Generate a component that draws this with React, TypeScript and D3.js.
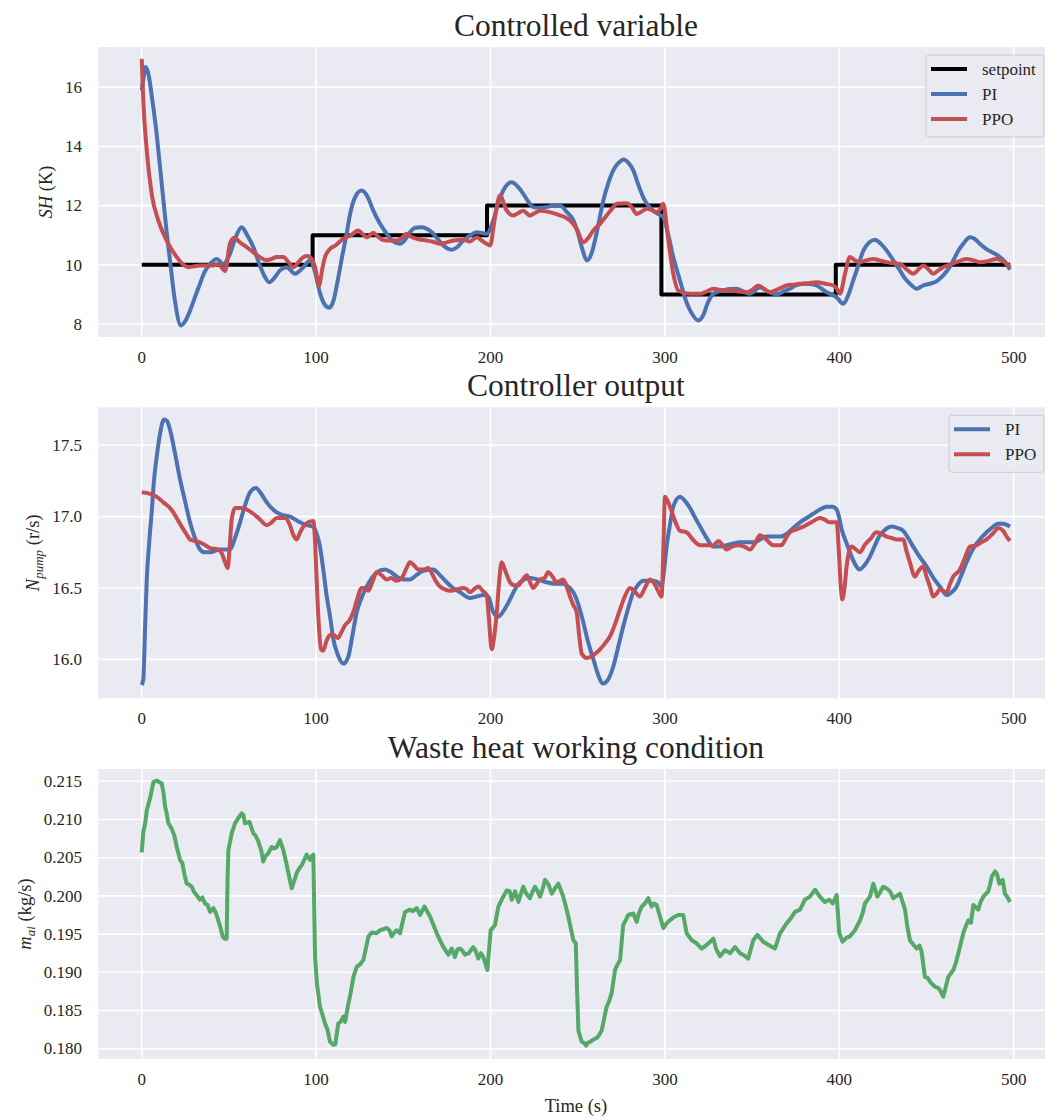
import * as d3 from 'd3'

const FONT = '"Liberation Serif", "Times New Roman", serif'
const INK = '#262626'
const BG = '#EAEAF2'
const BLUE = '#4C72B0'
const RED = '#C44E52'
const GREEN = '#55A868'

type Pt = [number, number]

// x ticks shared by all panels
const xTicks = [0, 100, 200, 300, 400, 500]

// setpoint levels (curveStepAfter)
const setpoint: Pt[] = [
  [0, 10], [98, 11], [198, 12], [298, 9], [398, 10], [498, 10],
]

// superheat, PI controller
const piSH: Pt[] = [
  [0, 15.9], [1, 16.3], [2.3, 16.68], [4, 16.4], [6, 15.6], [8.6, 14.4], [10.5, 13.3], [12.4, 12.2],
  [14.3, 11.1], [16.2, 10.15], [19, 8.8], [22.5, 7.95], [25, 8.1], [27.7, 8.45], [30.5, 8.9], [33.4, 9.36],
  [36, 9.75], [39.2, 10.03], [43, 10.2], [46.8, 10.03], [50.6, 10.37], [54, 10.95], [57.3, 11.27], [60.5, 11.0],
  [64, 10.6], [67, 10.1], [69.7, 9.7], [73.2, 9.41], [76, 9.55], [79.3, 9.81], [83.1, 9.92], [87.9, 9.7],
  [92.7, 9.92], [96.5, 10.15], [99.4, 9.75], [102.2, 9.05], [105, 8.65], [107.5, 8.55], [110, 8.8], [112.5, 9.5],
  [115, 10.3], [117.5, 11.05], [119.5, 11.72], [122.5, 12.3], [126.1, 12.51], [129.5, 12.3], [132.8, 11.83], [136.5, 11.4],
  [140.5, 11.05], [144, 10.8], [148.1, 10.71], [151, 10.85], [153.8, 11.1], [157, 11.25], [160.5, 11.27], [164, 11.2],
  [167.2, 11.05], [170, 10.85], [173, 10.65], [177.7, 10.51], [181, 10.6], [184.4, 10.82], [188, 10.98], [192.1, 11.1],
  [197.8, 11.05], [201.6, 11.5], [204.5, 12.1], [207.3, 12.51], [212.2, 12.79], [215.5, 12.65], [218.8, 12.4], [221.5, 12.15],
  [224.5, 11.95], [228, 11.93], [232.2, 11.95], [236, 12.0], [239.8, 12.0], [243.5, 11.8], [247.5, 11.5], [250, 11.1],
  [252.3, 10.6], [255.5, 10.15], [258, 10.4], [259.9, 10.82], [262, 11.4], [264.7, 12.17], [267.5, 12.75], [270.4, 13.19],
  [273.5, 13.45], [276.5, 13.56], [279, 13.45], [281.9, 13.19], [284.5, 12.75], [287.6, 12.28], [290.5, 12.0], [293.3, 11.83],
  [296, 11.72], [299, 11.61], [302, 11.0], [304.8, 10.26], [307, 9.8], [309.5, 9.3], [312, 8.8], [315, 8.4],
  [319.2, 8.12], [322, 8.3], [324.5, 8.7], [327.8, 9.02], [333.5, 9.13], [337, 9.18], [341.2, 9.19], [345, 9.1],
  [348.8, 9.02], [354.5, 9.24], [359, 9.1], [364.1, 9.0], [368, 9.1], [371.7, 9.19], [375, 9.3], [379.4, 9.36],
  [383, 9.35], [387, 9.3], [392.8, 9.07], [398.5, 8.9], [402.3, 8.68], [405, 8.95], [408, 9.47], [411, 10.0],
  [413.8, 10.48], [417, 10.75], [420.5, 10.85], [424, 10.7], [427.2, 10.48], [431, 10.15], [434.8, 9.81], [437.5, 9.55],
  [440.5, 9.36], [444.4, 9.19], [448, 9.3], [452, 9.36], [456, 9.45], [459.6, 9.64], [462.5, 9.85], [465.4, 10.15],
  [468, 10.45], [471.1, 10.71], [474.9, 10.93], [477.5, 10.88], [480.6, 10.71], [484, 10.55], [487.4, 10.43], [490, 10.35],
  [492.1, 10.26], [495, 10.1], [497.9, 9.83],
]

// superheat, PPO agent
const ppoSH: Pt[] = [
  [0, 16.96], [0.9, 15.55], [2.9, 13.86], [5.7, 12.4], [9.5, 11.5], [14.3, 10.82], [20.1, 10.26], [23, 10.05],
  [26.7, 9.92], [30, 9.95], [33.4, 9.98], [37, 9.98], [41.1, 9.98], [43.9, 10.03], [47.8, 9.79], [50.6, 10.71],
  [53.1, 10.91], [56.5, 10.75], [60.2, 10.6], [64, 10.42], [67.8, 10.26], [71.7, 10.15], [74.5, 10.2], [77.4, 10.26],
  [81.2, 10.26], [84, 10.1], [86.9, 9.92], [90, 10.1], [92.7, 10.26], [95, 10.3], [97.5, 10.2], [99.4, 9.92],
  [101.7, 9.3], [103.5, 9.85], [105.1, 10.26], [108, 10.54], [111, 10.65], [115.6, 10.88], [120, 11.0], [124.2, 11.16],
  [126.5, 11.05], [129, 10.93], [132.8, 11.08], [135.5, 10.95], [138.5, 10.84], [142, 10.82], [146.2, 10.82], [149, 10.9],
  [151.9, 11.05], [154.5, 10.95], [157.7, 10.88], [163.4, 10.82], [167, 10.78], [171, 10.71], [174.5, 10.75], [178.7, 10.82],
  [184.4, 10.85], [188.2, 10.79], [192.1, 10.93], [195, 10.82], [197.8, 10.71], [199.7, 10.65], [202.6, 11.61], [205.4, 12.34],
  [209.3, 11.83], [213.1, 11.67], [216, 11.75], [218.8, 11.83], [222.6, 11.67], [225.5, 11.75], [228.4, 11.83], [234.1, 11.78],
  [239.8, 11.67], [243, 11.6], [245.6, 11.5], [249.4, 11.22], [253.2, 10.76], [256, 10.9], [259, 11.16], [263, 11.4],
  [266.6, 11.67], [269.5, 11.88], [272.4, 12.06], [278.1, 12.08], [281, 11.95], [283.8, 11.72], [286.7, 11.8], [289.6, 11.89],
  [292.5, 11.85], [295.3, 11.78], [297.5, 11.9], [299, 12.06], [302, 10.82], [304.8, 9.7], [307.7, 9.13], [314.4, 9.02],
  [320.2, 9.02], [324, 9.1], [327.8, 9.19], [332, 9.15], [337.4, 9.13], [342, 9.1], [347, 9.07], [350, 9.15],
  [353.6, 9.3], [357, 9.18], [360.3, 9.07], [365, 9.18], [369.8, 9.3], [373.5, 9.33], [377.5, 9.36], [382, 9.38],
  [387, 9.41], [392, 9.36], [396.6, 9.3], [398.5, 9.2], [400.4, 9.02], [403.3, 9.7], [406.1, 10.26], [409, 10.15],
  [411.9, 10.09], [415.5, 10.15], [419.5, 10.2], [423, 10.15], [427.2, 10.09], [431, 10.05], [434.8, 10.03], [438.5, 9.85],
  [442.4, 9.7], [445.5, 9.85], [448.2, 9.98], [451, 9.85], [453.9, 9.7], [457, 9.82], [459.6, 9.92], [463.5, 10.0],
  [467.3, 10.09], [473, 10.2], [477, 10.15], [480.6, 10.09], [485, 10.12], [490.2, 10.2], [494, 10.12], [497.9, 9.92],
]

// pump speed, PI controller
const piN: Pt[] = [
  [0, 15.82], [0.9, 15.86], [2, 16.25], [2.9, 16.56], [4.3, 16.82], [5.7, 17.03], [7, 17.25], [8.6, 17.42],
  [10.5, 17.58], [12.8, 17.68], [14.5, 17.67], [16.2, 17.61], [19, 17.45], [22, 17.26], [25, 17.1], [27.7, 16.96],
  [30.5, 16.85], [33.4, 16.77], [36, 16.75], [39.2, 16.75], [44.9, 16.77], [50.6, 16.77], [53.5, 16.85], [56.4, 16.96],
  [59, 17.07], [62.1, 17.17], [65.5, 17.2], [68.5, 17.16], [71.7, 17.1], [74.5, 17.06], [77.4, 17.03], [81, 17.01],
  [85, 17.0], [88, 16.98], [90.8, 16.96], [94.5, 16.94], [98.4, 16.93], [100.3, 16.88], [102.2, 16.79], [104.2, 16.62],
  [106.1, 16.44], [108, 16.3], [109.9, 16.14], [112.5, 16.03], [115.6, 15.97], [118.5, 16.02], [121, 16.18], [123.3, 16.33],
  [126, 16.43], [129, 16.51], [132, 16.57], [134.7, 16.61], [139.5, 16.63], [143, 16.61], [146.2, 16.58], [150, 16.56],
  [153.8, 16.56], [157.5, 16.59], [161.5, 16.62], [167.2, 16.63], [171, 16.59], [174.9, 16.54], [178.5, 16.5], [182.5, 16.47],
  [188.2, 16.43], [192, 16.44], [195.9, 16.45], [198.7, 16.44], [201.6, 16.33], [204.5, 16.3], [207.5, 16.34], [211.2, 16.42],
  [214, 16.49], [216.9, 16.54], [222.6, 16.57], [227, 16.56], [232.2, 16.54], [237, 16.53], [241.7, 16.53], [244.5, 16.51],
  [247.5, 16.47], [250.5, 16.38], [253.2, 16.26], [256, 16.12], [259, 16.0], [261.5, 15.9], [264.3, 15.83], [267.5, 15.86],
  [270.4, 15.95], [273.5, 16.1], [276.1, 16.23], [279, 16.36], [281.9, 16.47], [284.5, 16.52], [287.6, 16.55], [293.3, 16.55],
  [296, 16.54], [298.1, 16.51], [299.5, 16.62], [301, 16.79], [303, 16.95], [304.8, 17.07], [308.7, 17.14], [311.5, 17.11],
  [314.4, 17.06], [317, 17.0], [320.2, 16.93], [324, 16.85], [327.8, 16.79], [331, 16.79], [335.4, 16.8], [343.1, 16.82],
  [350.7, 16.82], [358.4, 16.86], [366, 16.86], [370, 16.88], [373.6, 16.92], [377.5, 16.96], [381.3, 16.99], [385, 17.02],
  [388.9, 17.05], [392.8, 17.07], [396, 17.07], [398.5, 17.05], [400, 16.99], [401.4, 16.91], [404, 16.82], [406.1, 16.75],
  [408.5, 16.68], [411.5, 16.63], [414.5, 16.66], [417.6, 16.72], [420.5, 16.8], [423.3, 16.87], [426.5, 16.91], [430, 16.93],
  [433.5, 16.92], [436.7, 16.9], [439.5, 16.85], [442.4, 16.79], [446, 16.72], [450.1, 16.65], [454, 16.57], [457.7, 16.51],
  [461.6, 16.45], [464.5, 16.47], [467.3, 16.51], [470, 16.59], [473, 16.68], [476.5, 16.77], [480.6, 16.84], [484.5, 16.89],
  [488.3, 16.93], [491, 16.95], [494, 16.95], [497.9, 16.93],
]

// pump speed, PPO agent
const ppoN: Pt[] = [
  [0, 17.17], [4.8, 17.16], [8.5, 17.14], [12.4, 17.1], [15.5, 17.07], [18.1, 17.03], [20.5, 16.98], [22.9, 16.93],
  [25.5, 16.88], [27.7, 16.84], [30.5, 16.83], [33.4, 16.82], [36.5, 16.8], [39.2, 16.78], [43.9, 16.77], [46, 16.74],
  [47.8, 16.68], [49.3, 16.64], [50.5, 16.8], [51.6, 16.98], [53.5, 17.06], [56.5, 17.06], [60.2, 17.05], [64, 17.02],
  [67.8, 16.98], [71.7, 16.94], [74.5, 16.96], [77.4, 16.99], [82.2, 16.99], [85, 16.94], [87, 16.87], [88.9, 16.84],
  [90.8, 16.89], [92.7, 16.93], [95.5, 16.96], [98.4, 16.97], [99.5, 16.8], [100.3, 16.56], [101.5, 16.25], [102.8, 16.07],
  [104, 16.06], [106, 16.13], [108, 16.17], [110, 16.17], [112.5, 16.15], [114.5, 16.19], [116.6, 16.24], [119, 16.27],
  [121.3, 16.33], [123.5, 16.42], [126.1, 16.5], [128, 16.5], [130, 16.48], [132.5, 16.55], [134.7, 16.61], [137.5, 16.59],
  [140.5, 16.56], [143, 16.57], [146.2, 16.55], [149.1, 16.57], [151.5, 16.63], [153.8, 16.68], [156, 16.66], [158.6, 16.63],
  [161.5, 16.63], [164.3, 16.64], [166.5, 16.6], [168.5, 16.55], [171, 16.51], [174, 16.49], [176.8, 16.48], [180.5, 16.49],
  [184.4, 16.5], [186.5, 16.49], [188.2, 16.47], [190.5, 16.49], [193, 16.51], [195.5, 16.48], [197.8, 16.45], [199, 16.3],
  [200.7, 16.07], [202, 16.15], [203.6, 16.33], [205, 16.55], [206.4, 16.68], [208.5, 16.62], [211.2, 16.54], [213.5, 16.52],
  [216, 16.52], [218.5, 16.56], [220.8, 16.59], [222.7, 16.54], [224.5, 16.5], [226.5, 16.53], [228.4, 16.56], [231, 16.57],
  [233.1, 16.61], [235.5, 16.58], [237.9, 16.54], [240, 16.55], [241.7, 16.56], [243.7, 16.51], [245.6, 16.44], [247.5, 16.38],
  [249.4, 16.33], [251, 16.15], [252.3, 16.04], [255.2, 16.01], [259, 16.03], [262.8, 16.07], [265.5, 16.11], [268.5, 16.16],
  [271.5, 16.25], [274.3, 16.35], [277, 16.44], [280, 16.5], [283, 16.47], [285.7, 16.44], [288.5, 16.5], [291.5, 16.56],
  [294.5, 16.52], [296.5, 16.47], [298.1, 16.44], [299.2, 16.8], [300, 17.14], [302.9, 17.07], [305.5, 16.98], [308.7, 16.9],
  [312.5, 16.89], [316, 16.84], [320.2, 16.8], [324, 16.8], [327.8, 16.8], [330.8, 16.83], [333, 16.8], [335.4, 16.77],
  [338.5, 16.79], [342.1, 16.8], [345.5, 16.79], [348.8, 16.77], [351.5, 16.81], [354.5, 16.87], [358, 16.84], [362.1, 16.8],
  [366.9, 16.8], [369.5, 16.85], [371.7, 16.89], [375.5, 16.91], [379.4, 16.93], [384, 16.96], [388.9, 16.99], [391.5, 16.98],
  [394.7, 16.96], [398.5, 16.96], [399.8, 16.75], [400.8, 16.52], [401.7, 16.42], [403, 16.5], [404.2, 16.65], [405.5, 16.75],
  [407.1, 16.79], [409.5, 16.77], [411.9, 16.75], [414.5, 16.8], [417.6, 16.84], [421.4, 16.89], [424, 16.88], [427.2, 16.86],
  [430, 16.85], [432.9, 16.84], [436.7, 16.84], [438.5, 16.76], [440.5, 16.68], [443.4, 16.58], [445.5, 16.62], [448.2, 16.65],
  [450, 16.58], [452, 16.51], [453.9, 16.44], [455.8, 16.46], [457.7, 16.49], [461.6, 16.47], [463.5, 16.53], [465.4, 16.58],
  [469.2, 16.63], [472, 16.71], [474.9, 16.79], [478.8, 16.8], [481.5, 16.82], [484.5, 16.84], [488, 16.88], [491.2, 16.92],
  [494, 16.9], [496, 16.86], [497.9, 16.83],
]

// waste heat mass flow
const mai: Pt[] = [
  [0, 0.2057], [1, 0.2085], [2, 0.2095], [2.9, 0.2112], [4.8, 0.2128], [6.7, 0.2149], [8.6, 0.2151], [10, 0.2149],
  [11.5, 0.2147], [12.5, 0.2135], [13.4, 0.2117], [14.3, 0.2108], [15.3, 0.2095], [17.2, 0.2088], [18.8, 0.2078], [20.1, 0.2064],
  [22, 0.2047], [23.3, 0.2043], [24.5, 0.2028], [25.8, 0.2016], [27, 0.2015], [28.7, 0.2012], [30, 0.2005], [31.5, 0.2001],
  [33.4, 0.1995], [34.8, 0.1998], [36.3, 0.199], [37.8, 0.1988], [39.2, 0.1979], [41.1, 0.1984], [42.5, 0.1978], [43.9, 0.1968],
  [45.2, 0.1958], [46.4, 0.1947], [47.5, 0.1944], [48.7, 0.1944], [49.2, 0.202], [49.7, 0.206], [51.6, 0.2082], [53.5, 0.2095],
  [55.4, 0.2102], [57.3, 0.2108], [58.3, 0.2106], [59.2, 0.2095], [61.7, 0.2097], [62.8, 0.209], [64, 0.2082], [65.5, 0.2078],
  [66.9, 0.2071], [68.5, 0.206], [69.7, 0.2045], [71, 0.2052], [72.6, 0.2056], [74.5, 0.2064], [76, 0.2062], [77.4, 0.2064],
  [79.3, 0.2073], [81.2, 0.206], [82.7, 0.2045], [84.1, 0.203], [86, 0.201], [87.5, 0.202], [88.9, 0.203], [90.3, 0.2036],
  [91.7, 0.204], [93, 0.2046], [94.6, 0.2054], [96.5, 0.2047], [97.5, 0.2052], [98.4, 0.2054], [99.4, 0.192], [100.5, 0.1885],
  [102.2, 0.1855], [103.6, 0.1845], [105.1, 0.1833], [106.5, 0.1825], [108, 0.1809], [109.9, 0.1805], [111, 0.1806], [112.7, 0.1833],
  [114, 0.1835], [115.6, 0.1842], [116.6, 0.1835], [118.5, 0.1859], [119.4, 0.1868], [121.5, 0.1895], [123.3, 0.1907], [125, 0.191],
  [127.1, 0.1916], [130, 0.1947], [131.9, 0.1952], [134.7, 0.1951], [136.6, 0.1955], [140.5, 0.1958], [142, 0.1955], [143.3, 0.1947],
  [144.8, 0.1952], [146.2, 0.1955], [148.1, 0.1951], [151, 0.1979], [153.8, 0.1982], [155.5, 0.198], [157.7, 0.1984], [159.6, 0.1975],
  [162.1, 0.1986], [165.3, 0.1973], [167.3, 0.1962], [169.2, 0.1951], [171, 0.1942], [173, 0.1933], [175.8, 0.1923], [177.8, 0.1931],
  [179.6, 0.192], [181, 0.193], [182.5, 0.1931], [184, 0.1928], [185.4, 0.1923], [187.5, 0.1925], [190.1, 0.1933], [191.5, 0.1928],
  [193, 0.1918], [194.5, 0.1925], [195.9, 0.192], [197, 0.1912], [198.2, 0.1903], [200.1, 0.1955], [202.6, 0.1962], [204.5, 0.1986],
  [207.3, 0.1999], [209.3, 0.2007], [211, 0.2006], [212.2, 0.1995], [214.1, 0.2006], [216, 0.1992], [217.5, 0.2003], [218.8, 0.2012],
  [220.5, 0.2003], [222.6, 0.1997], [224, 0.2005], [225.5, 0.2012], [227, 0.2006], [228.4, 0.1999], [230, 0.201], [231.3, 0.2021],
  [233.2, 0.2015], [235.1, 0.2003], [237, 0.201], [238.9, 0.2016], [240.3, 0.2008], [241.7, 0.1999], [243, 0.1988], [244.6, 0.1973],
  [246, 0.1958], [247.5, 0.1942], [248.9, 0.1938], [249.6, 0.188], [250.4, 0.1824], [252.3, 0.1809], [253.5, 0.1808], [254.8, 0.1804],
  [256, 0.1808], [257.1, 0.1809], [259, 0.1812], [260.9, 0.1814], [262.3, 0.1818], [263.8, 0.1824], [265.2, 0.184], [266.6, 0.1855],
  [268, 0.1862], [269.5, 0.1873], [271.4, 0.1903], [272.8, 0.191], [274.3, 0.1916], [276.1, 0.1962], [277.5, 0.1968], [279, 0.1975],
  [281.9, 0.1977], [283.8, 0.1966], [285.2, 0.1978], [286.7, 0.1986], [288.5, 0.199], [290.5, 0.1997], [292.4, 0.1986], [293.8, 0.199],
  [295.3, 0.1988], [297.2, 0.1973], [299.1, 0.1958], [301, 0.1964], [302.9, 0.1968], [305, 0.1972], [307.7, 0.1975], [310.5, 0.1975],
  [312.5, 0.1951], [315.4, 0.1942], [318.2, 0.1938], [321.1, 0.1931], [324, 0.1936], [326, 0.194], [327.8, 0.1944], [329.5, 0.193],
  [331.6, 0.1921], [334.5, 0.1929], [337.4, 0.1925], [340.2, 0.1933], [343.1, 0.1925], [345.5, 0.1922], [347.8, 0.1918], [350.7, 0.1942],
  [353, 0.1949], [356.4, 0.194], [360, 0.1935], [363.1, 0.1931], [366, 0.1951], [369.8, 0.1964], [372, 0.197], [374.6, 0.1979],
  [377.5, 0.1982], [380.3, 0.1995], [383.2, 0.1999], [386.1, 0.2008], [388.9, 0.1999], [391.8, 0.1992], [394.3, 0.1995], [396.2, 0.199],
  [398.5, 0.2001], [400, 0.1951], [401.9, 0.194], [404, 0.1945], [406.1, 0.1947], [409, 0.1955], [411.9, 0.1968], [413.5, 0.1978],
  [414.7, 0.199], [417.6, 0.1999], [419.5, 0.2016], [421.8, 0.1999], [423.5, 0.2005], [425.2, 0.2012], [427, 0.201], [429.1, 0.2006],
  [431, 0.1997], [433, 0.2], [434.8, 0.2003], [437.7, 0.1982], [439, 0.196], [440.5, 0.1942], [442.5, 0.1936], [444.4, 0.1931],
  [446, 0.1935], [447.2, 0.1927], [449.1, 0.1894], [450.5, 0.1893], [452, 0.1888], [453.5, 0.1884], [454.9, 0.1881], [456.5, 0.188],
  [457.7, 0.1877], [459.6, 0.1868], [461, 0.188], [462.5, 0.1894], [465.4, 0.1903], [466.8, 0.1912], [468.3, 0.1925], [471.1, 0.1951],
  [472.5, 0.196], [474, 0.1968], [475.5, 0.1965], [476.9, 0.1988], [479.7, 0.1982], [481, 0.1992], [482.6, 0.1999], [485.4, 0.2006],
  [486.5, 0.2015], [487.4, 0.2025], [489.3, 0.2032], [490.5, 0.2028], [491.8, 0.2016], [493.7, 0.2021], [495, 0.2003], [496.5, 0.1998],
  [497.9, 0.1992],
]

const shTicks = [8, 10, 12, 14, 16]
const nTicks = [16.0, 16.5, 17.0, 17.5]
const maiTicks = [0.18, 0.185, 0.19, 0.195, 0.2, 0.205, 0.21, 0.215]

const W = 1045
const H = 1118
const LEFT = 98.3
const RIGHT = 1053.6
const LW = 4

const x = d3.scaleLinear().domain([-24.9, 522.9]).range([LEFT, RIGHT])

type Series = { data: Pt[]; color: string; label: string; step?: boolean; smooth?: boolean }

type PanelProps = {
  top: number
  bottom: number
  yDomain: [number, number]
  yTicks: number[]
  fmt: (v: number) => string
  title: string
  ylabel: React.ReactNode
  ylabelX: number
  series: Series[]
  legendW?: number
}

function Panel({ top, bottom, yDomain, yTicks, fmt, title, ylabel, ylabelX, series, legendW }: PanelProps) {
  const y = d3.scaleLinear().domain(yDomain).range([bottom, top])
  const mid = (top + bottom) / 2
  const legendItems = series.filter((s) => s.label)
  const rowH = 25
  const lgH = legendItems.length * rowH + 7
  const lgX = RIGHT - 9.6 - (legendW ?? 0)
  const lgY = top + 8

  return (
    <g>
      <rect x={LEFT} y={top} width={RIGHT - LEFT} height={bottom - top} fill={BG} />
      {yTicks.map((t) => (
        <line key={'gy' + t} x1={LEFT} x2={RIGHT} y1={y(t)} y2={y(t)} stroke="white" strokeWidth={1.6} />
      ))}
      {xTicks.map((t) => (
        <line key={'gx' + t} x1={x(t)} x2={x(t)} y1={top} y2={bottom} stroke="white" strokeWidth={1.6} />
      ))}
      {series.map((s, i) => {
        const line = d3
          .line<Pt>()
          .x((d) => x(d[0]))
          .y((d) => y(d[1]))
          .curve(s.step ? d3.curveStepAfter : s.smooth ? d3.curveMonotoneX : d3.curveLinear)
        return (
          <path key={i} d={line(s.data) ?? ''} fill="none" stroke={s.color} strokeWidth={LW}
            strokeLinejoin="round" strokeLinecap="butt" />
        )
      })}
      {yTicks.map((t) => (
        <text key={'ty' + t} x={82} y={y(t)} dy="0.34em" textAnchor="end" fontSize={17} fill={INK}>
          {fmt(t)}
        </text>
      ))}
      {xTicks.map((t) => (
        <text key={'tx' + t} x={x(t)} y={bottom + 26} textAnchor="middle" fontSize={17} fill={INK}>
          {t}
        </text>
      ))}
      <text x={(LEFT + RIGHT) / 2} y={top - 11.5} textAnchor="middle" fontSize={31.5} fill={INK}>
        {title}
      </text>
      <text transform={`translate(${ylabelX},${mid}) rotate(-90)`} textAnchor="middle" fontSize={18.5} fill={INK}>
        {ylabel}
      </text>
      {legendW && (
        <g>
          <rect x={lgX} y={lgY} width={legendW} height={lgH} rx={3} fill={BG} fillOpacity={0.85}
            stroke="#cccccc" strokeWidth={1} />
          {legendItems.map((s, i) => (
            <g key={s.label} transform={`translate(${lgX},${lgY + 14 + i * rowH})`}>
              <line x1={5} x2={41} y1={0} y2={0} stroke={s.color} strokeWidth={LW} />
              <text x={56} y={0} dy="0.33em" fontSize={17} fill={INK}>{s.label}</text>
            </g>
          ))}
        </g>
      )}
    </g>
  )
}

export default function App() {
  return (
    <svg width={W} height={H} style={{ position: 'absolute', left: 0, top: 0, background: 'white' }}
      fontFamily={FONT}>
      <Panel
        top={47}
        bottom={337}
        yDomain={[7.56, 17.36]}
        yTicks={shTicks}
        fmt={(v) => String(v)}
        title="Controlled variable"
        ylabel={<><tspan fontStyle="italic">SH</tspan><tspan> (K)</tspan></>}
        ylabelX={52}
        legendW={118}
        series={[
          { data: setpoint, color: '#000000', label: 'setpoint', step: true },
          { data: piSH, color: BLUE, label: 'PI', smooth: true },
          { data: ppoSH, color: RED, label: 'PPO', smooth: true },
        ]}
      />
      <Panel
        top={407.3}
        bottom={698.3}
        yDomain={[15.727, 17.766]}
        yTicks={nTicks}
        fmt={(v) => v.toFixed(1)}
        title="Controller output"
        ylabel={
          <>
            <tspan fontStyle="italic">N</tspan>
            <tspan fontStyle="italic" fontSize={13} dy={4}>pump</tspan>
            <tspan dy={-4}> (r/s)</tspan>
          </>
        }
        ylabelX={39}
        legendW={95}
        series={[
          { data: piN, color: BLUE, label: 'PI', smooth: true },
          { data: ppoN, color: RED, label: 'PPO', smooth: true },
        ]}
      />
      <Panel
        top={769}
        bottom={1059}
        yDomain={[0.17865, 0.21661]}
        yTicks={maiTicks}
        fmt={(v) => v.toFixed(3)}
        title="Waste heat working condition"
        ylabel={
          <>
            <tspan fontStyle="italic">m</tspan>
            <tspan fontStyle="italic" fontSize={13} dy={4}>ai</tspan>
            <tspan dy={-4}> (kg/s)</tspan>
          </>
        }
        ylabelX={31}
        series={[{ data: mai, color: GREEN, label: '' }]}
      />
      <text x={(LEFT + RIGHT) / 2} y={1112} textAnchor="middle" fontSize={18.5} fill={INK}>
        Time (s)
      </text>
    </svg>
  )
}
